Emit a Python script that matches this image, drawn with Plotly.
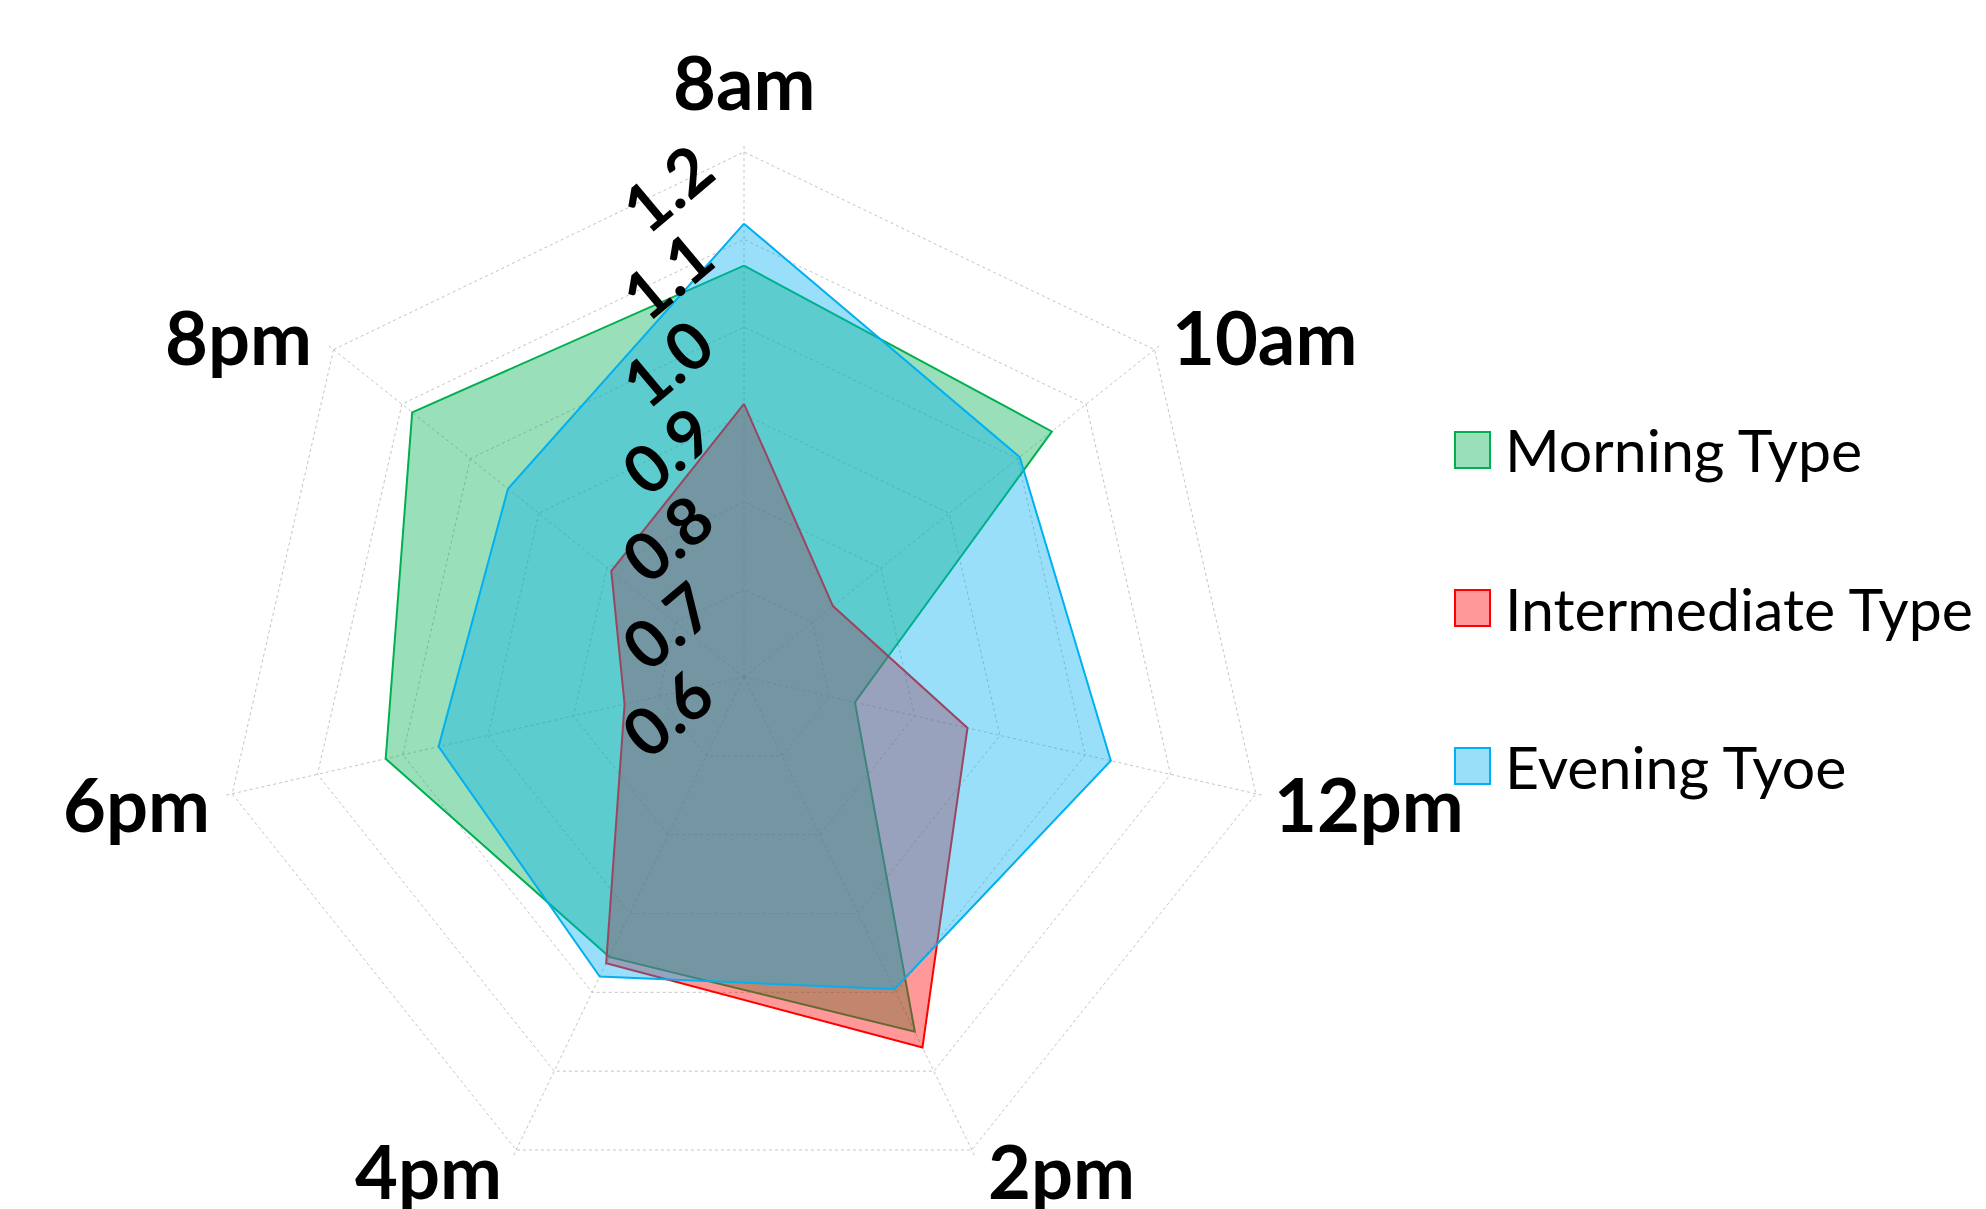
import math
import plotly.graph_objects as go

# Time-of-day categories around the radar
times = ["8am", "10am", "12pm", "2pm", "4pm", "6pm", "8pm"]

# Series values per chronotype
morning = [1.07, 1.05, 0.73, 1.05, 0.955, 1.02, 1.085]
intermediate = [0.912, 0.73, 0.862, 1.07, 0.963, 0.74, 0.794]
evening = [1.118, 1.003, 1.03, 0.996, 0.98, 0.958, 0.945]

series_names = ["Morning Type", "Intermediate Type", "Evening Tyoe"]
radial_ticks = [0.6, 0.7, 0.8, 0.9, 1.0, 1.1, 1.2]

line_colors = ["#00B050", "#FF0000", "#00B0F0"]
fill_colors = ["rgba(0,176,80,0.4)", "rgba(255,0,0,0.4)", "rgba(0,176,240,0.4)"]

W, H = 1986, 1209
cx, cy, R = 744, 681, 529          # centre and radius of the 1.2 ring, in pixels
r_lo, r_grid, r_hi = 0.6, 1.2, 1.208
R_dom = R * (r_hi - r_lo) / (r_grid - r_lo)

fig = go.Figure()
for name, vals, lc, fc in zip(series_names, [morning, intermediate, evening], line_colors, fill_colors):
    fig.add_trace(go.Scatterpolar(
        r=vals + vals[:1],
        theta=times + times[:1],
        mode="lines",
        fill="toself",
        fillcolor=fc,
        line=dict(color=lc, width=2),
        name=name,
        showlegend=False,
    ))

grid_color = "#C4C4C4"
fig.update_layout(
    width=W, height=H,
    margin=dict(l=0, r=0, t=0, b=0),
    paper_bgcolor="white",
    plot_bgcolor="white",
    font=dict(family="Lato", color="black"),
    polar=dict(
        domain=dict(x=[(cx - R_dom) / W, (cx + R_dom) / W],
                    y=[max(0, (H - cy - R_dom) / H), (H - cy + R_dom) / H]),
        bgcolor="white",
        gridshape="linear",
        angularaxis=dict(
            rotation=90,
            direction="clockwise",
            showline=False,
            gridcolor=grid_color,
            griddash="dot",
            gridwidth=1,
            ticks="",
            showticklabels=False,
        ),
        radialaxis=dict(
            range=[r_lo, r_hi],
            angle=90,
            side="counterclockwise",
            tickvals=radial_ticks,
            ticktext=[f"{v:.1f}" for v in radial_ticks],
            tickangle=50,
            showline=False,
            ticks="",
            gridcolor=grid_color,
            griddash="dot",
            gridwidth=1,
            tickfont=dict(family="Lato", size=66, color="black", weight="bold"),
        ),
    ),
)

# Category labels set just outside each spoke of the outer ring
n = len(times)
for i, label in enumerate(times):
    ang = math.radians(i * 360 / n)
    vx = cx + R * math.sin(ang)
    vy = cy - R * math.cos(ang)
    s, c = math.sin(ang), math.cos(ang)
    if abs(s) < 0.1:                       # top
        x, y, xa, ya = vx, vy - 24, "center", "bottom"
    elif c < -0.8:                         # bottom pair
        x, y = vx + (12 if s > 0 else -10), vy - 34
        xa, ya = ("left" if s > 0 else "right"), "top"
    else:                                  # sides
        x = vx + (12 if s > 0 else -16)
        y = vy + (-15 if c > 0 else 5)
        xa, ya = ("left" if s > 0 else "right"), "middle"
    fig.add_annotation(xref="paper", yref="paper", x=x / W, y=1 - y / H,
                       xanchor=xa, yanchor=ya, showarrow=False, text=label,
                       font=dict(family="Lato", size=74, color="black", weight="bold"))

# Legend drawn as square swatches with labels
legend_y = [450, 608, 766]
for name, lc, fc, y in zip(series_names, line_colors, fill_colors, legend_y):
    fig.add_shape(type="rect", xref="paper", yref="paper",
                  x0=1455 / W, x1=1490 / W, y0=1 - (y + 18) / H, y1=1 - (y - 18) / H,
                  line=dict(color=lc, width=2), fillcolor=fc)
    fig.add_annotation(xref="paper", yref="paper", x=1503 / W, y=1 - y / H,
                       xanchor="left", yanchor="middle", showarrow=False,
                       text=name, font=dict(family="Lato", size=59, color="black"))

fig.write_html("out.html")
